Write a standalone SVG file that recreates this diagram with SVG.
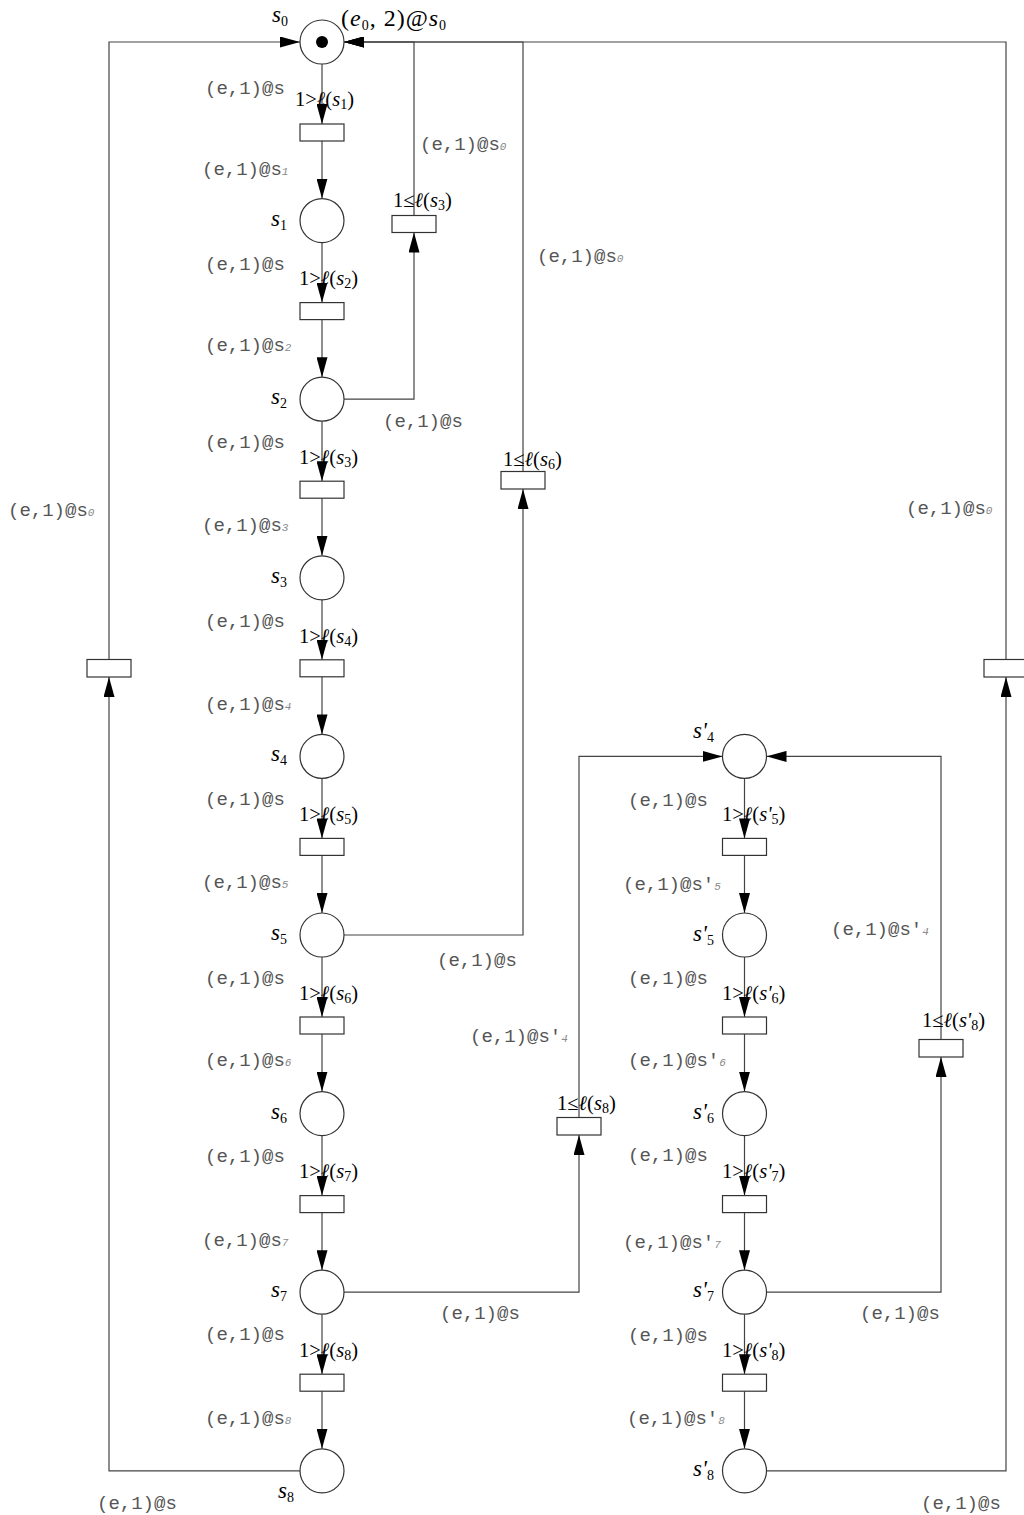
<svg xmlns="http://www.w3.org/2000/svg" width="1024" height="1515" viewBox="0 0 1024 1515">
<style>
.pl{fill:#fff;stroke:#333;stroke-width:1.2}
.tr{fill:#fff;stroke:#333;stroke-width:1.2}
.arc{fill:none;stroke:#444;stroke-width:1.2;marker-end:url(#ah)}
.m{font-family:"Liberation Mono","Courier New",monospace;font-size:19px;fill:#555}
.sb{font-size:11px;font-style:italic;fill:#8a8a8a}
.t{font-family:"Liberation Serif","DejaVu Serif",serif;font-size:20.5px;fill:#000}
.n{font-size:23px}
.i{font-style:italic}
.ts{font-size:14px}
.big{font-size:24px;letter-spacing:1px}
</style>
<defs>
<marker id="ah" markerUnits="userSpaceOnUse" markerWidth="20" markerHeight="11" refX="20" refY="5.5" orient="auto"><path d="M0,0 L20,5.5 L0,11 z" fill="#000"/></marker>
</defs>
<rect width="1024" height="1515" fill="#fff"/>
<g id="connectors">
<path class="arc" d="M322,64 V124"/><path class="arc" d="M322,141 V198.6"/>
<path class="arc" d="M322,242.6 V302.6"/><path class="arc" d="M322,319.6 V377.2"/>
<path class="arc" d="M322,421.2 V481.2"/><path class="arc" d="M322,498.2 V555.8"/>
<path class="arc" d="M322,599.8 V659.8"/><path class="arc" d="M322,676.8 V734.4"/>
<path class="arc" d="M322,778.4 V838.4"/><path class="arc" d="M322,855.4 V913"/>
<path class="arc" d="M322,957 V1017"/><path class="arc" d="M322,1034 V1091.6"/>
<path class="arc" d="M322,1135.6 V1195.6"/><path class="arc" d="M322,1212.6 V1270.2"/>
<path class="arc" d="M322,1314.2 V1374.2"/><path class="arc" d="M322,1391.2 V1448.8"/>
<path class="arc" d="M744.5,778.4 V838.4"/><path class="arc" d="M744.5,855.4 V913"/>
<path class="arc" d="M744.5,957 V1017"/><path class="arc" d="M744.5,1034 V1091.6"/>
<path class="arc" d="M744.5,1135.6 V1195.6"/><path class="arc" d="M744.5,1212.6 V1270.2"/>
<path class="arc" d="M744.5,1314.2 V1374.2"/><path class="arc" d="M744.5,1391.2 V1448.8"/>
<path class="arc" d="M300,1470.8 H109 V677"/>
<path class="arc" d="M109,659.5 V42 H300"/>
<path class="arc" d="M766.5,1470.8 H1006 V677"/>
<path class="arc" d="M1006,659.5 V42 H344"/>
<path class="arc" d="M344,399.2 H414 V232.5"/>
<path class="arc" d="M414,215.5 V42 H344"/>
<path class="arc" d="M344,935 H523 V489"/>
<path class="arc" d="M523,471.5 V42 H344"/>
<path class="arc" d="M344,1292.2 H579 V1135"/>
<path class="arc" d="M579,1117.5 V756.4 H722.5"/>
<path class="arc" d="M766.5,1292.2 H941 V1057"/>
<path class="arc" d="M941,1039.5 V756.4 H766.5"/>
</g>
<g id="s0"><circle class="pl" cx="322" cy="42" r="22"/><circle cx="322" cy="42" r="6" fill="#000"/>
<text class="t n" x="272" y="22"><tspan class="i">s</tspan><tspan class="ts" dy="4">0</tspan></text>
<text class="t big" x="341" y="26">(<tspan class="i">e</tspan><tspan class="ts" dy="4">0</tspan><tspan dy="-4">, 2)@</tspan><tspan class="i">s</tspan><tspan class="ts" dy="4">0</tspan></text></g>
<g id="s1"><circle class="pl" cx="322" cy="220.6" r="22"/><text class="t n" x="271" y="225.6"><tspan class="i">s</tspan><tspan class="ts" dy="4">1</tspan></text></g>
<g id="s2"><circle class="pl" cx="322" cy="399.2" r="22"/><text class="t n" x="271" y="404.2"><tspan class="i">s</tspan><tspan class="ts" dy="4">2</tspan></text></g>
<g id="s3"><circle class="pl" cx="322" cy="577.8" r="22"/><text class="t n" x="271" y="582.8"><tspan class="i">s</tspan><tspan class="ts" dy="4">3</tspan></text></g>
<g id="s4"><circle class="pl" cx="322" cy="756.4" r="22"/><text class="t n" x="271" y="761.4"><tspan class="i">s</tspan><tspan class="ts" dy="4">4</tspan></text></g>
<g id="s5"><circle class="pl" cx="322" cy="935" r="22"/><text class="t n" x="271" y="940"><tspan class="i">s</tspan><tspan class="ts" dy="4">5</tspan></text></g>
<g id="s6"><circle class="pl" cx="322" cy="1113.6" r="22"/><text class="t n" x="271" y="1118.6"><tspan class="i">s</tspan><tspan class="ts" dy="4">6</tspan></text></g>
<g id="s7"><circle class="pl" cx="322" cy="1292.2" r="22"/><text class="t n" x="271" y="1297.2"><tspan class="i">s</tspan><tspan class="ts" dy="4">7</tspan></text></g>
<g id="s8"><circle class="pl" cx="322" cy="1470.8" r="22"/><text class="t n" x="278" y="1498"><tspan class="i">s</tspan><tspan class="ts" dy="4">8</tspan></text></g>
<g id="sp4"><circle class="pl" cx="744.5" cy="756.4" r="22"/><text class="t n" x="693" y="738"><tspan class="i">s'</tspan><tspan class="ts" dy="4">4</tspan></text></g>
<g id="sp5"><circle class="pl" cx="744.5" cy="935" r="22"/><text class="t n" x="693" y="941"><tspan class="i">s'</tspan><tspan class="ts" dy="4">5</tspan></text></g>
<g id="sp6"><circle class="pl" cx="744.5" cy="1113.6" r="22"/><text class="t n" x="693" y="1119"><tspan class="i">s'</tspan><tspan class="ts" dy="4">6</tspan></text></g>
<g id="sp7"><circle class="pl" cx="744.5" cy="1292.2" r="22"/><text class="t n" x="693" y="1297"><tspan class="i">s'</tspan><tspan class="ts" dy="4">7</tspan></text></g>
<g id="sp8"><circle class="pl" cx="744.5" cy="1470.8" r="22"/><text class="t n" x="693" y="1476"><tspan class="i">s'</tspan><tspan class="ts" dy="4">8</tspan></text></g>
<g id="t1"><rect class="tr" x="300" y="124" width="44" height="17"/><text class="t" x="295" y="106">1&gt;<tspan class="i">ℓ</tspan>(<tspan class="i">s</tspan><tspan class="ts" dy="3">1</tspan><tspan dy="-3">)</tspan></text></g>
<g id="t2"><rect class="tr" x="300" y="302.6" width="44" height="17"/><text class="t" x="299" y="285">1&gt;<tspan class="i">ℓ</tspan>(<tspan class="i">s</tspan><tspan class="ts" dy="3">2</tspan><tspan dy="-3">)</tspan></text></g>
<g id="t3"><rect class="tr" x="300" y="481.2" width="44" height="17"/><text class="t" x="299" y="464">1&gt;<tspan class="i">ℓ</tspan>(<tspan class="i">s</tspan><tspan class="ts" dy="3">3</tspan><tspan dy="-3">)</tspan></text></g>
<g id="t4"><rect class="tr" x="300" y="659.8" width="44" height="17"/><text class="t" x="299" y="642.5">1&gt;<tspan class="i">ℓ</tspan>(<tspan class="i">s</tspan><tspan class="ts" dy="3">4</tspan><tspan dy="-3">)</tspan></text></g>
<g id="t5"><rect class="tr" x="300" y="838.4" width="44" height="17"/><text class="t" x="299" y="821">1&gt;<tspan class="i">ℓ</tspan>(<tspan class="i">s</tspan><tspan class="ts" dy="3">5</tspan><tspan dy="-3">)</tspan></text></g>
<g id="t6"><rect class="tr" x="300" y="1017" width="44" height="17"/><text class="t" x="299" y="999.5">1&gt;<tspan class="i">ℓ</tspan>(<tspan class="i">s</tspan><tspan class="ts" dy="3">6</tspan><tspan dy="-3">)</tspan></text></g>
<g id="t7"><rect class="tr" x="300" y="1195.6" width="44" height="17"/><text class="t" x="299" y="1178">1&gt;<tspan class="i">ℓ</tspan>(<tspan class="i">s</tspan><tspan class="ts" dy="3">7</tspan><tspan dy="-3">)</tspan></text></g>
<g id="t8"><rect class="tr" x="300" y="1374.2" width="44" height="17"/><text class="t" x="299" y="1356.7">1&gt;<tspan class="i">ℓ</tspan>(<tspan class="i">s</tspan><tspan class="ts" dy="3">8</tspan><tspan dy="-3">)</tspan></text></g>
<g id="tp5"><rect class="tr" x="722.5" y="838.4" width="44" height="17"/><text class="t" x="722" y="821">1&gt;<tspan class="i">ℓ</tspan>(<tspan class="i">s'</tspan><tspan class="ts" dy="3">5</tspan><tspan dy="-3">)</tspan></text></g>
<g id="tp6"><rect class="tr" x="722.5" y="1017" width="44" height="17"/><text class="t" x="722" y="999.5">1&gt;<tspan class="i">ℓ</tspan>(<tspan class="i">s'</tspan><tspan class="ts" dy="3">6</tspan><tspan dy="-3">)</tspan></text></g>
<g id="tp7"><rect class="tr" x="722.5" y="1195.6" width="44" height="17"/><text class="t" x="722" y="1178">1&gt;<tspan class="i">ℓ</tspan>(<tspan class="i">s'</tspan><tspan class="ts" dy="3">7</tspan><tspan dy="-3">)</tspan></text></g>
<g id="tp8"><rect class="tr" x="722.5" y="1374.2" width="44" height="17"/><text class="t" x="722" y="1356.7">1&gt;<tspan class="i">ℓ</tspan>(<tspan class="i">s'</tspan><tspan class="ts" dy="3">8</tspan><tspan dy="-3">)</tspan></text></g>
<g id="tc3"><rect class="tr" x="392" y="215.5" width="44" height="17"/><text class="t" x="393" y="207">1≤<tspan class="i">ℓ</tspan>(<tspan class="i">s</tspan><tspan class="ts" dy="3">3</tspan><tspan dy="-3">)</tspan></text></g>
<g id="tc6"><rect class="tr" x="501" y="471.5" width="44" height="17.5"/><text class="t" x="503" y="466">1≤<tspan class="i">ℓ</tspan>(<tspan class="i">s</tspan><tspan class="ts" dy="3">6</tspan><tspan dy="-3">)</tspan></text></g>
<g id="tc8"><rect class="tr" x="557" y="1117.5" width="44" height="17.5"/><text class="t" x="557" y="1110">1≤<tspan class="i">ℓ</tspan>(<tspan class="i">s</tspan><tspan class="ts" dy="3">8</tspan><tspan dy="-3">)</tspan></text></g>
<g id="tcp8"><rect class="tr" x="919" y="1039.5" width="44" height="17.5"/><text class="t" x="922" y="1027">1≤<tspan class="i">ℓ</tspan>(<tspan class="i">s'</tspan><tspan class="ts" dy="3">8</tspan><tspan dy="-3">)</tspan></text></g>
<g id="tl"><rect class="tr" x="87" y="659.5" width="44" height="17.5"/></g>
<g id="trr"><rect class="tr" x="984" y="659.5" width="44" height="17.5"/></g>
<g id="arc-labels">
<text class="m" x="205" y="94">(e,1)@s</text>
<text class="m" x="202" y="175">(e,1)@s<tspan class="sb">1</tspan></text>
<text class="m" x="205" y="270">(e,1)@s</text>
<text class="m" x="205" y="351">(e,1)@s<tspan class="sb">2</tspan></text>
<text class="m" x="205" y="448">(e,1)@s</text>
<text class="m" x="202" y="531">(e,1)@s<tspan class="sb">3</tspan></text>
<text class="m" x="205" y="627">(e,1)@s</text>
<text class="m" x="205" y="710">(e,1)@s<tspan class="sb">4</tspan></text>
<text class="m" x="205" y="805">(e,1)@s</text>
<text class="m" x="202" y="888">(e,1)@s<tspan class="sb">5</tspan></text>
<text class="m" x="205" y="984">(e,1)@s</text>
<text class="m" x="205" y="1066">(e,1)@s<tspan class="sb">6</tspan></text>
<text class="m" x="205" y="1162">(e,1)@s</text>
<text class="m" x="202" y="1246">(e,1)@s<tspan class="sb">7</tspan></text>
<text class="m" x="205" y="1340">(e,1)@s</text>
<text class="m" x="205" y="1424">(e,1)@s<tspan class="sb">8</tspan></text>
<text class="m" x="628" y="806">(e,1)@s</text>
<text class="m" x="623" y="890">(e,1)@s'<tspan class="sb">5</tspan></text>
<text class="m" x="628" y="984">(e,1)@s</text>
<text class="m" x="628" y="1066">(e,1)@s'<tspan class="sb">6</tspan></text>
<text class="m" x="628" y="1161">(e,1)@s</text>
<text class="m" x="623" y="1248">(e,1)@s'<tspan class="sb">7</tspan></text>
<text class="m" x="628" y="1341">(e,1)@s</text>
<text class="m" x="627" y="1424">(e,1)@s'<tspan class="sb">8</tspan></text>
<text class="m" x="420" y="150">(e,1)@s<tspan class="sb">0</tspan></text>
<text class="m" x="537" y="262">(e,1)@s<tspan class="sb">0</tspan></text>
<text class="m" x="383" y="427">(e,1)@s</text>
<text class="m" x="437" y="966">(e,1)@s</text>
<text class="m" x="440" y="1319">(e,1)@s</text>
<text class="m" x="8" y="516">(e,1)@s<tspan class="sb">0</tspan></text>
<text class="m" x="906" y="514">(e,1)@s<tspan class="sb">0</tspan></text>
<text class="m" x="470" y="1042">(e,1)@s'<tspan class="sb">4</tspan></text>
<text class="m" x="831" y="935">(e,1)@s'<tspan class="sb">4</tspan></text>
<text class="m" x="860" y="1319">(e,1)@s</text>
<text class="m" x="97" y="1509">(e,1)@s</text>
<text class="m" x="921" y="1509">(e,1)@s</text>
</g>
</svg>
